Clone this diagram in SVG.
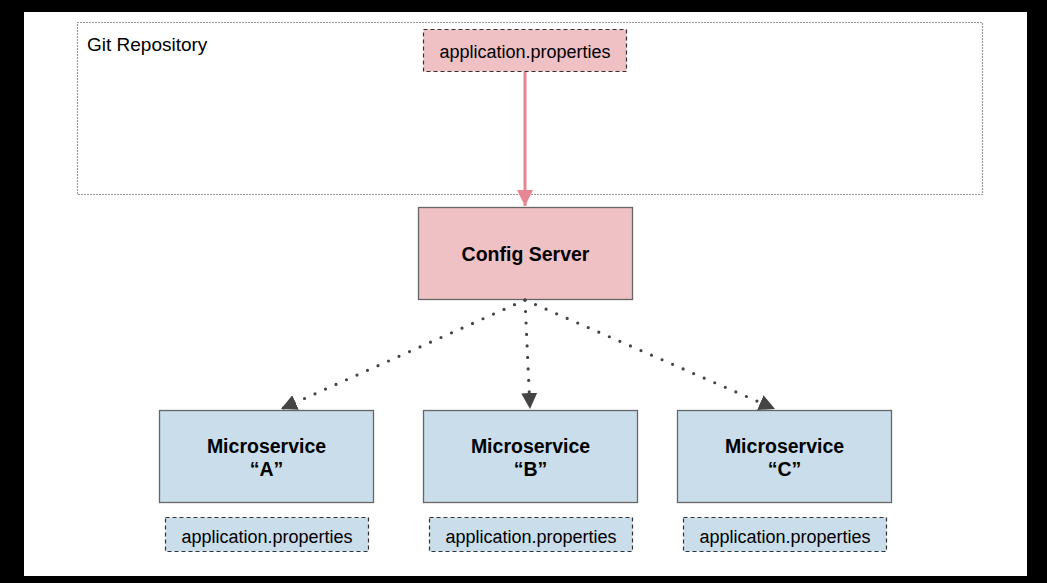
<svg xmlns="http://www.w3.org/2000/svg" width="1047" height="583" viewBox="0 0 1047 583">
  <defs>
    <style>
      .t { font-family: "Liberation Sans", Arial, sans-serif; fill: #000; }
      .b { font-weight: bold; font-size: 19.5px; }
      .n { font-size: 18px; }
      .pink { fill: #efc1c5; }
      .blue { fill: #c9ddea; }
      .solid { stroke: #666; stroke-width: 1.3; }
      .dash { stroke: #333; stroke-width: 1.2; stroke-dasharray: 4 3; }
      .dot { fill: none; stroke: #444; stroke-width: 3.2; stroke-linecap: round; stroke-dasharray: 0 11.5; }
    </style>
    <marker id="arrPink" viewBox="0 0 10 10" refX="10" refY="5" markerUnits="userSpaceOnUse" markerWidth="16" markerHeight="16" orient="auto">
      <path d="M0,0 L10,5 L0,10 z" fill="#e68693"/>
    </marker>
    <marker id="arrDark" viewBox="0 0 10 10" refX="10" refY="5" markerUnits="userSpaceOnUse" markerWidth="16" markerHeight="16" orient="auto">
      <path d="M0,0 L10,5 L0,10 z" fill="#444"/>
    </marker>
  </defs>

  <!-- frame -->
  <rect x="0" y="0" width="1047" height="583" fill="#000"/>
  <rect x="24" y="12" width="1003" height="564" fill="#fff"/>

  <!-- repository container -->
  <g id="git-repo">
    <rect x="77.5" y="22.5" width="905" height="172" fill="none" stroke="#333" stroke-width="1.2" stroke-dasharray="1 2"/>
    <text class="t" x="87" y="51" font-size="19px">Git Repository</text>
  </g>

  <g id="repo-props">
    <rect class="pink dash" x="423.5" y="29.5" width="203" height="42"/>
    <text class="t n" x="525" y="58" text-anchor="middle">application.properties</text>
  </g>

  <g id="config-server">
    <rect class="pink solid" x="418.5" y="207.5" width="214" height="92"/>
    <text class="t b" x="525.5" y="261" text-anchor="middle">Config Server</text>
  </g>

  <g id="ms-a">
    <rect class="blue solid" x="159.5" y="410.5" width="214" height="92"/>
    <text class="t b" x="266.5" y="453" text-anchor="middle">Microservice</text>
    <text class="t b" x="266.5" y="476" text-anchor="middle">“A”</text>
  </g>
  <g id="ms-a-props">
    <rect class="blue dash" x="165.5" y="517.5" width="203" height="34"/>
    <text class="t n" x="267" y="543" text-anchor="middle">application.properties</text>
  </g>

  <g id="ms-b">
    <rect class="blue solid" x="423.5" y="410.5" width="214" height="92"/>
    <text class="t b" x="530.5" y="453" text-anchor="middle">Microservice</text>
    <text class="t b" x="530.5" y="476" text-anchor="middle">“B”</text>
  </g>
  <g id="ms-b-props">
    <rect class="blue dash" x="429.5" y="517.5" width="203" height="34"/>
    <text class="t n" x="531" y="543" text-anchor="middle">application.properties</text>
  </g>

  <g id="ms-c">
    <rect class="blue solid" x="677.5" y="410.5" width="214" height="92"/>
    <text class="t b" x="784.5" y="453" text-anchor="middle">Microservice</text>
    <text class="t b" x="784.5" y="476" text-anchor="middle">“C”</text>
  </g>
  <g id="ms-c-props">
    <rect class="blue dash" x="683.5" y="517.5" width="203" height="34"/>
    <text class="t n" x="785" y="543" text-anchor="middle">application.properties</text>
  </g>

  <!-- connectors -->
  <g id="connectors">
    <line x1="525" y1="72" x2="525" y2="206" stroke="#e68693" stroke-width="3" marker-end="url(#arrPink)"/>
    <line class="dot" x1="525" y1="300" x2="281" y2="409" marker-end="url(#arrDark)"/>
    <line class="dot" x1="525" y1="300" x2="530" y2="409" marker-end="url(#arrDark)"/>
    <line class="dot" x1="525" y1="300" x2="775" y2="409" marker-end="url(#arrDark)"/>
  </g>
</svg>
